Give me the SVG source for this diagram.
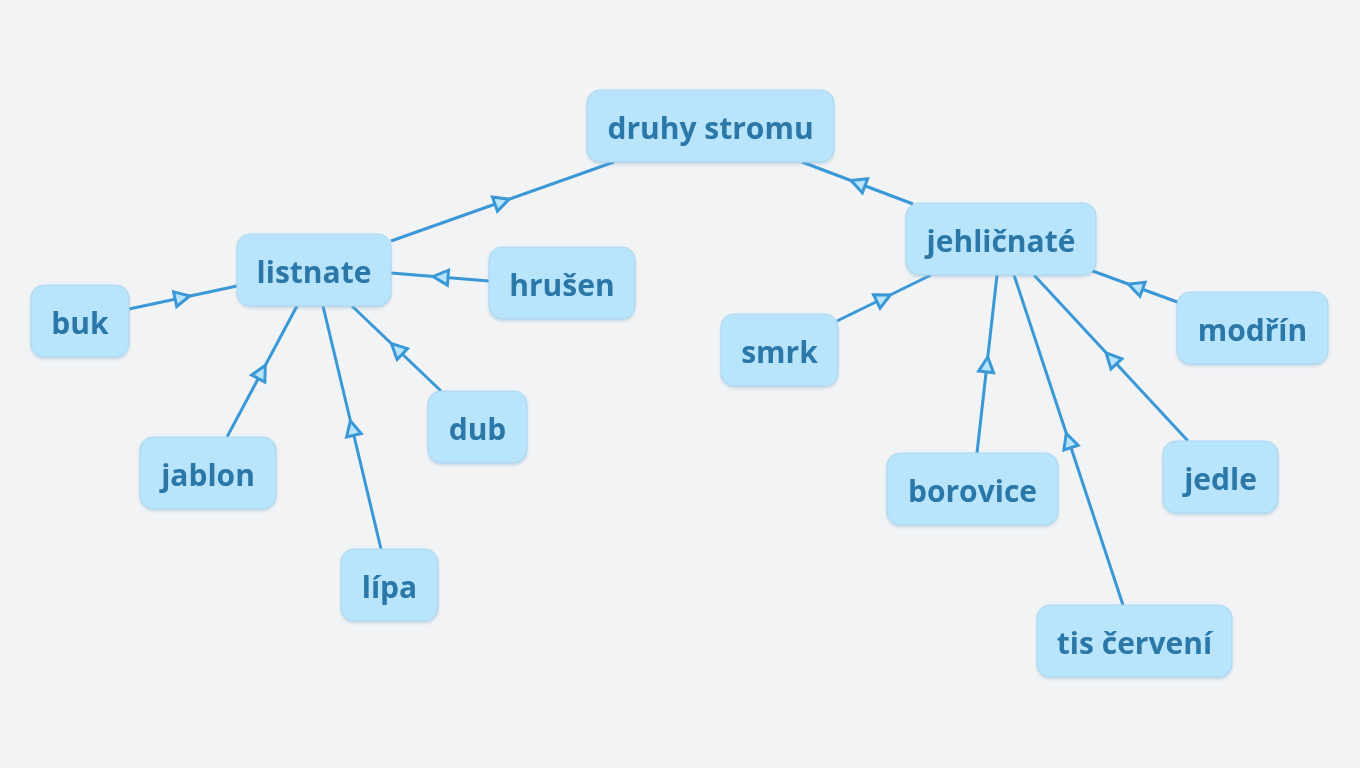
<svg xmlns="http://www.w3.org/2000/svg" width="1360" height="768" viewBox="0 0 1360 768">
<style>
.n rect{fill:#b8e4fc;stroke:#a9d6ef;stroke-width:1}
.n text{font-family:"Open Sans",Lato,"Liberation Sans",sans-serif;font-weight:700;font-size:30px;fill:#2b77a8;text-anchor:middle;dominant-baseline:central}
.e path{fill:none;stroke:#3a98d6;stroke-width:3;marker-mid:url(#ah)}
</style>
<defs>
<marker id="ah" viewBox="-10 -12 32 24" markerWidth="32" markerHeight="24" refX="8" refY="0" orient="auto" markerUnits="userSpaceOnUse">
<path d="M0,-7.5 L15,0 L0,7.5 Z" fill="#b8e4fc" stroke="#3a98d6" stroke-width="3" stroke-linejoin="miter"/>
</marker>
<filter id="sh" x="-10%" y="-10%" width="120%" height="130%">
<feDropShadow dx="0" dy="2" stdDeviation="1.5" flood-color="#7aa8c4" flood-opacity="0.35"/>
</filter>
</defs>
<rect width="1360" height="768" fill="#f2f3f5"/>
<g class="e">
<path d="M391,241 L502.5,201.5 L614,162"/>
<path d="M913,204 L857.5,183 L802,162"/>
<path d="M129,309 L183,297.5 L237,286"/>
<path d="M489,281 L440,277 L391,273"/>
<path d="M227,437 L262,371.5 L297,306"/>
<path d="M381,549 L352,427.5 L323,306"/>
<path d="M441,391 L396.5,348.5 L352,306"/>
<path d="M837,321 L884,298 L931,275"/>
<path d="M1180,303 L1135,286.5 L1090,270"/>
<path d="M977,453 L987,364 L997,275"/>
<path d="M1123,605 L1068.5,440 L1014,275"/>
<path d="M1188,441 L1111,358 L1034,275"/>
</g>
<g id="druhy" class="n" filter="url(#sh)"><rect x="587" y="90" width="247" height="72" rx="13"/><text x="710.5" y="127">druhy stromu</text></g>
<g id="listnate" class="n" filter="url(#sh)"><rect x="237" y="234" width="154" height="72" rx="13"/><text x="314" y="271">listnate</text></g>
<g id="hrusen" class="n" filter="url(#sh)"><rect x="489" y="247" width="146" height="72" rx="13"/><text x="562" y="284">hrušen</text></g>
<g id="buk" class="n" filter="url(#sh)"><rect x="31" y="285" width="98" height="72" rx="13"/><text x="80" y="322">buk</text></g>
<g id="jablon" class="n" filter="url(#sh)"><rect x="140" y="437" width="136" height="72" rx="13"/><text x="208" y="474">jablon</text></g>
<g id="dub" class="n" filter="url(#sh)"><rect x="428" y="391" width="99" height="72" rx="13"/><text x="477.5" y="428">dub</text></g>
<g id="lipa" class="n" filter="url(#sh)"><rect x="341" y="549" width="97" height="72" rx="13"/><text x="389.5" y="586">lípa</text></g>
<g id="jehlicnate" class="n" filter="url(#sh)"><rect x="906" y="203" width="190" height="72" rx="13"/><text x="1001" y="240">jehličnaté</text></g>
<g id="smrk" class="n" filter="url(#sh)"><rect x="721" y="314" width="117" height="72" rx="13"/><text x="779.5" y="351">smrk</text></g>
<g id="modrin" class="n" filter="url(#sh)"><rect x="1177" y="292" width="151" height="72" rx="13"/><text x="1252.5" y="329">modřín</text></g>
<g id="borovice" class="n" filter="url(#sh)"><rect x="887" y="453" width="171" height="72" rx="13"/><text x="972.5" y="490">borovice</text></g>
<g id="jedle" class="n" filter="url(#sh)"><rect x="1163" y="441" width="115" height="72" rx="13"/><text x="1220.5" y="478">jedle</text></g>
<g id="tis" class="n" filter="url(#sh)"><rect x="1037" y="605" width="195" height="72" rx="13"/><text x="1134.5" y="642">tis červení</text></g>
</svg>
